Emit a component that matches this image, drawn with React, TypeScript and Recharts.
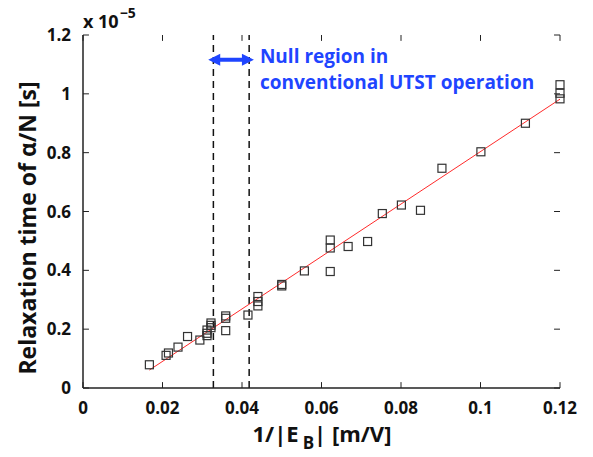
import React from 'react'
import {
  ScatterChart,
  Scatter,
  XAxis,
  YAxis,
  ReferenceLine,
  Label,
} from 'recharts'

// measured points, y in units of 1e-5 s
const xValues = [
  0.0167, 0.0209, 0.0215, 0.0239, 0.0263, 0.0294, 0.0312, 0.0312, 0.0312,
  0.0322, 0.0322, 0.0322, 0.0359, 0.0359, 0.0359, 0.0415, 0.044, 0.044,
  0.044, 0.05, 0.05, 0.0557, 0.0622, 0.0622, 0.0622, 0.0667, 0.0716,
  0.0753, 0.0801, 0.0849, 0.0903, 0.1001, 0.1113, 0.12, 0.12, 0.12,
]
const yValues = [
  0.079, 0.111, 0.119, 0.139, 0.175, 0.163, 0.178, 0.186, 0.197,
  0.205, 0.213, 0.221, 0.237, 0.245, 0.195, 0.248, 0.279, 0.294,
  0.311, 0.347, 0.352, 0.398, 0.503, 0.476, 0.396, 0.481, 0.498,
  0.593, 0.622, 0.604, 0.747, 0.803, 0.9, 1.031, 1.002, 0.983,
]

// linear fit end points
const fitX = [0.0167, 0.12]
const fitY = [0.061, 0.982]

// null region bounds
const nullRegion = [0.0328, 0.0418]
const arrowX = [0.0315, 0.043]
const arrowY = 1.116

const xTicks = [0, 0.02, 0.04, 0.06, 0.08, 0.1, 0.12]
const yTicks = [0, 0.2, 0.4, 0.6, 0.8, 1, 1.2]

const points = xValues.map((x, i) => ({ x, y: yValues[i] }))
const fitLine = fitX.map((x, i) => ({ x, y: fitY[i] }))

const X_MAX = 0.12
const Y_MAX = 1.2
// inward tick length in axis units (~5px)
const xTickLen = 0.0015
const yTickLen = 0.02

const FONT = '"Open Sans", sans-serif'
const BLUE = '#1f45ff'
const AXIS = '#222'

const SquareMarker = (props: any) => {
  const { cx, cy } = props
  if (cx == null || cy == null) return null
  return (
    <rect
      x={cx - 4}
      y={cy - 4}
      width={8}
      height={8}
      fill="none"
      stroke="#333"
      strokeWidth={1.2}
    />
  )
}

const NoMarker = () => null

const ArrowShape = (props: any) => {
  const { x1, x2, y1 } = props
  const y = y1
  const head = 12
  const hw = 6
  const sw = 2
  const d = [
    `M${x1},${y}`,
    `L${x1 + head},${y - hw}`,
    `L${x1 + head},${y - sw}`,
    `L${x2 - head},${y - sw}`,
    `L${x2 - head},${y - hw}`,
    `L${x2},${y}`,
    `L${x2 - head},${y + hw}`,
    `L${x2 - head},${y + sw}`,
    `L${x1 + head},${y + sw}`,
    `L${x1 + head},${y + hw}`,
    'Z',
  ].join(' ')
  return (
    <g>
      <path d={d} fill={BLUE} />
      <text x={x2 + 6} y={y + 3} fill={BLUE} fontFamily={FONT} fontWeight={700} fontSize={19}>
        Null region in
      </text>
      <text x={x2 + 6} y={y + 29} fill={BLUE} fontFamily={FONT} fontWeight={700} fontSize={19}>
        conventional UTST operation
      </text>
    </g>
  )
}

const tickStyle = { fontSize: 17, fill: '#111', fontFamily: FONT, fontWeight: 700 }
const axisLine = { stroke: AXIS, strokeWidth: 1.5 }

// inward tick marks on all four sides of the box
const tickSegments = [
  ...xTicks.map((t) => [{ x: t, y: 0 }, { x: t, y: yTickLen }]),
  ...xTicks.map((t) => [{ x: t, y: Y_MAX }, { x: t, y: Y_MAX - yTickLen }]),
  ...yTicks.map((t) => [{ x: 0, y: t }, { x: xTickLen, y: t }]),
  ...yTicks.map((t) => [{ x: X_MAX, y: t }, { x: X_MAX - xTickLen, y: t }]),
]

export default function App() {
  return (
    <div style={{ position: 'absolute', left: 0, top: 0, width: 593, height: 457, background: '#fff' }}>
      <ScatterChart
        width={593}
        height={457}
        margin={{ top: 35, right: 33, bottom: 39, left: 23 }}
      >
        <XAxis
          xAxisId="b"
          dataKey="x"
          type="number"
          domain={[0, X_MAX]}
          ticks={xTicks}
          height={30}
          tickLine={false}
          tickMargin={8}
          tick={tickStyle}
          axisLine={axisLine}
        >
          <Label
            content={() => (
              <text x={322} y={442} textAnchor="middle" fontFamily={FONT} fontWeight={700} fontSize={22} fill="#111">
                1/|E
                <tspan dx={4} dy={7} fontSize={17}>B</tspan>
                <tspan dy={-7}>| [m/V]</tspan>
              </text>
            )}
          />
        </XAxis>
        <XAxis
          xAxisId="t"
          orientation="top"
          type="number"
          domain={[0, X_MAX]}
          height={0}
          tick={false}
          tickLine={false}
          axisLine={axisLine}
        />
        <YAxis
          yAxisId="l"
          dataKey="y"
          type="number"
          domain={[0, Y_MAX]}
          ticks={yTicks}
          width={60}
          tickLine={false}
          tickMargin={6}
          tick={tickStyle}
          axisLine={axisLine}
        >
          <Label
            content={() => (
              <g>
                <text
                  x={36}
                  y={228}
                  transform="rotate(-90 36 228)"
                  textAnchor="middle"
                  fontFamily={FONT}
                  fontWeight={700}
                  fontSize={23}
                  fill="#111"
                >
                  Relaxation time of  α/N [s]
                </text>
                <text x={83} y={28} fontFamily={FONT} fontWeight={700} fontSize={18} fill="#111">
                  x 10
                  <tspan dx={1} dy={-10} fontSize={14}>−5</tspan>
                </text>
              </g>
            )}
          />
        </YAxis>
        <YAxis
          yAxisId="r"
          orientation="right"
          type="number"
          domain={[0, Y_MAX]}
          width={0}
          tick={false}
          tickLine={false}
          axisLine={axisLine}
        />
        {tickSegments.map((seg, i) => (
          <ReferenceLine
            key={`tk${i}`}
            xAxisId="b"
            yAxisId="l"
            segment={seg}
            stroke={AXIS}
            strokeWidth={1}
          />
        ))}
        {nullRegion.map((v) => (
          <ReferenceLine
            key={v}
            x={v}
            xAxisId="b"
            yAxisId="l"
            stroke="#111"
            strokeWidth={1.5}
            strokeDasharray="7 5"
          />
        ))}
        <ReferenceLine
          xAxisId="b"
          yAxisId="l"
          segment={[
            { x: arrowX[0], y: arrowY },
            { x: arrowX[1], y: arrowY },
          ]}
          shape={ArrowShape}
        />
        <Scatter
          xAxisId="b"
          yAxisId="l"
          data={fitLine}
          line={{ stroke: '#ff2a2a', strokeWidth: 1 }}
          shape={NoMarker}
          isAnimationActive={false}
        />
        <Scatter
          xAxisId="b"
          yAxisId="l"
          data={points}
          shape={SquareMarker}
          isAnimationActive={false}
        />
      </ScatterChart>
    </div>
  )
}
